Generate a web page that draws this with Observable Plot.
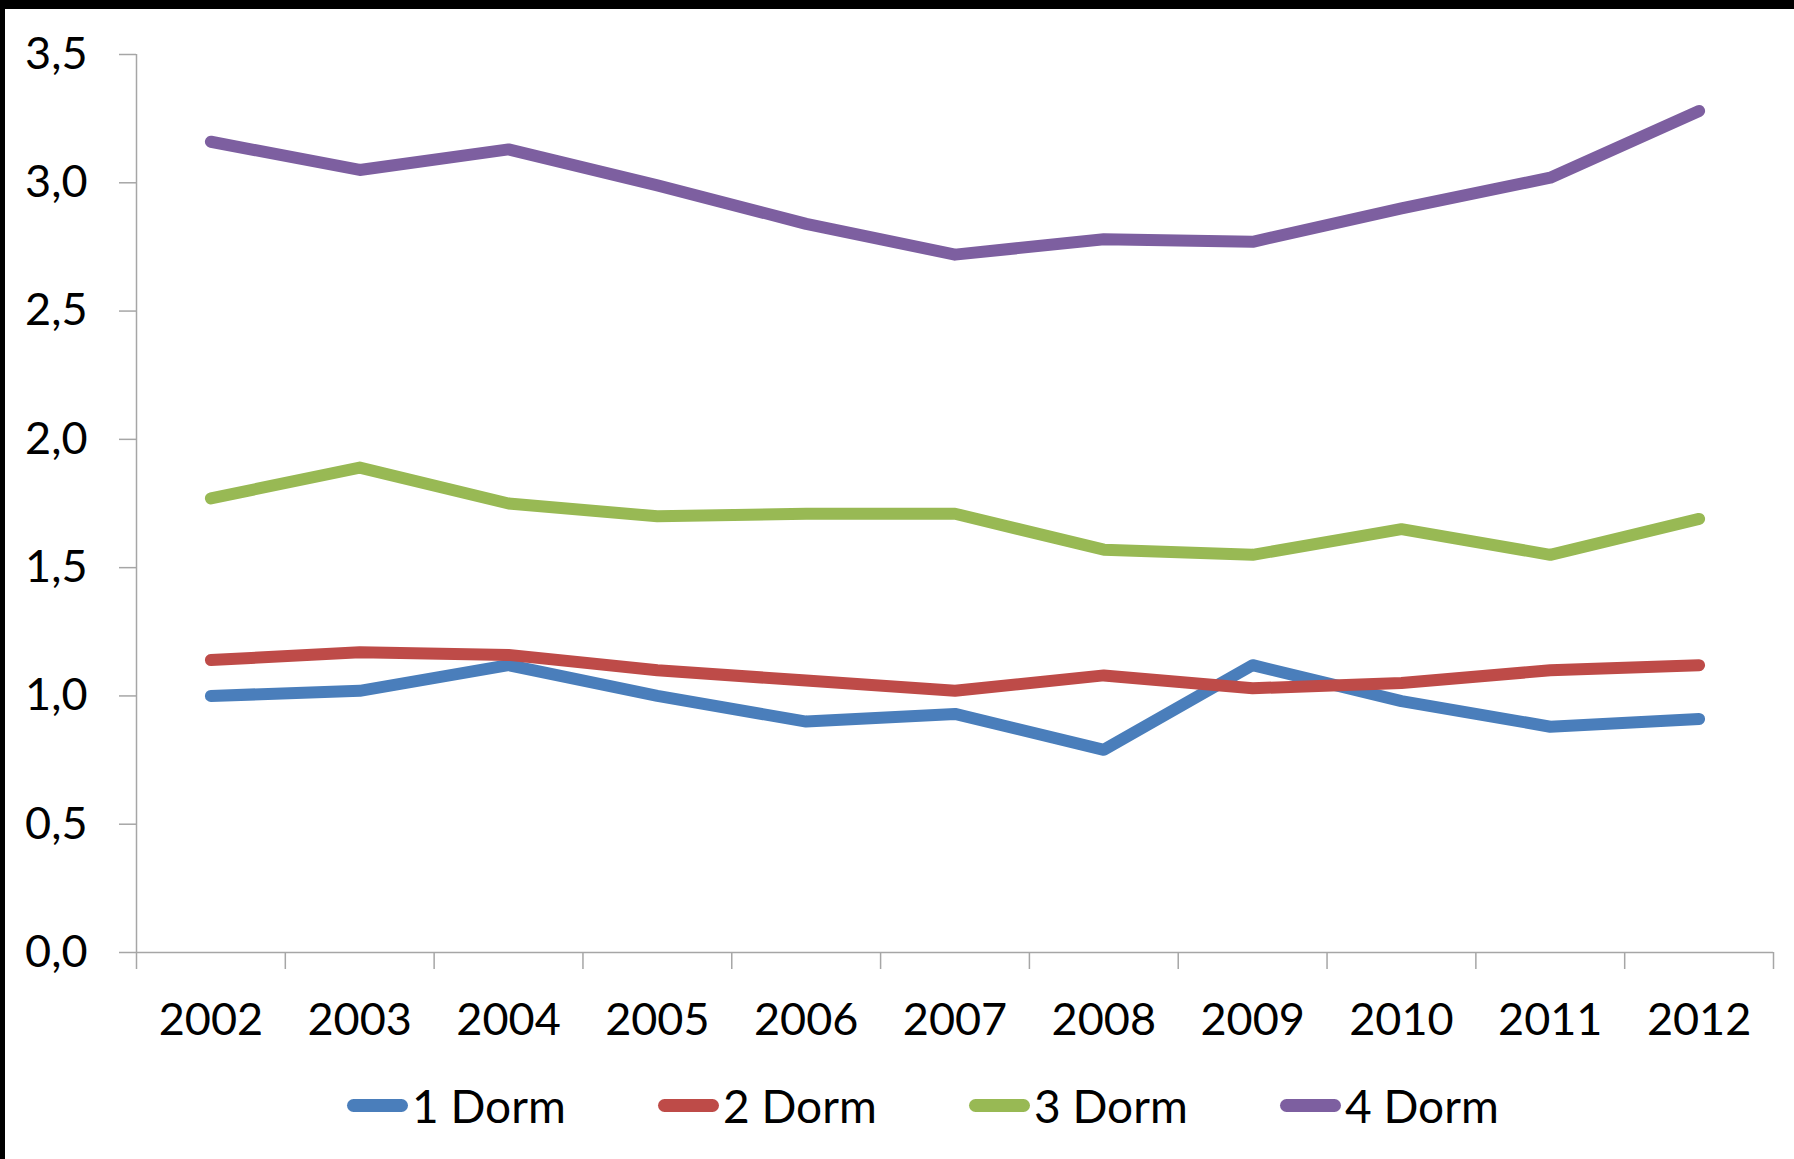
<!DOCTYPE html>
<html>
<head>
<meta charset="utf-8">
<script src="https://cdn.jsdelivr.net/npm/d3@7"></script>
<script src="https://cdn.jsdelivr.net/npm/@observablehq/plot@0.6"></script>
<style>
  html, body { margin: 0; padding: 0; background: #000; }
  #panel { position: absolute; left: 5px; top: 9px; width: 1789px; height: 1150px; background: #fff; overflow: hidden; }
  #chart { position: absolute; left: 0; top: 0; }
  #legend { position: absolute; left: 342px; top: 1066px; display: flex; font-family: Lato, sans-serif; font-size: 46px; color: #000; }
  .item { width: 311px; flex-shrink: 0; display: flex; align-items: center; height: 60px; }
  .sw { width: 61px; height: 13px; border-radius: 6.5px; margin-right: 4px; }
</style>
</head>
<body>
<div id="panel"><div id="chart"></div><div id="legend"></div></div>
<script>
const years = [2002, 2003, 2004, 2005, 2006, 2007, 2008, 2009, 2010, 2011, 2012];
const seriesNames = ["1 Dorm", "2 Dorm", "3 Dorm", "4 Dorm"];
const seriesColors = ["#4A7EBB", "#BE4B48", "#98B954", "#7D5FA0"];
const dorm1 = [1.00, 1.02, 1.12, 1.00, 0.90, 0.93, 0.79, 1.12, 0.98, 0.88, 0.91];
const dorm2 = [1.14, 1.17, 1.16, 1.10, 1.06, 1.02, 1.08, 1.03, 1.05, 1.10, 1.12];
const dorm3 = [1.77, 1.89, 1.75, 1.70, 1.71, 1.71, 1.57, 1.55, 1.65, 1.55, 1.69];
const dorm4 = [3.16, 3.05, 3.13, 2.99, 2.84, 2.72, 2.78, 2.77, 2.90, 3.02, 3.28];
const yTicks = [0, 0.5, 1, 1.5, 2, 2.5, 3, 3.5];

const seriesValues = [dorm1, dorm2, dorm3, dorm4];
const data = [];
seriesNames.forEach((name, i) => {
  years.forEach((yr, j) => data.push({series: name, year: yr, value: seriesValues[i][j]}));
});
const boundaries = [years[0] - 0.5, ...years.map(y => y + 0.5)];
const axisGray = "#a6a6a6";

const chart = Plot.plot({
  width: 1789,
  height: 1060,
  marginLeft: 131,
  marginRight: 21,
  marginTop: 45,
  marginBottom: 117,
  style: {fontFamily: "Lato, sans-serif", fontSize: "45px", color: "#000", background: "#fff"},
  x: {domain: [years[0] - 0.5, years[years.length - 1] + 0.5]},
  y: {domain: [0, 3.5]},
  color: {domain: seriesNames, range: seriesColors},
  marks: [
    Plot.axisY(yTicks, {tickSize: 17, tickPadding: 32, stroke: axisGray, strokeOpacity: 1, strokeWidth: 1.5, fill: "#000", label: null,
      tickFormat: d => d3.format(".1f")(d).replace(".", ",")}),
    Plot.axisX(boundaries, {tickSize: 17, stroke: axisGray, strokeOpacity: 1, strokeWidth: 1.5, tickFormat: () => "", label: null}),
    Plot.axisX(years, {tickSize: 0, tickPadding: 51, fill: "#000", tickFormat: d => String(d), label: null}),
    Plot.ruleY([0], {stroke: axisGray, strokeWidth: 1.5}),
    Plot.ruleX([boundaries[0]], {stroke: axisGray, strokeWidth: 1.5}),
    Plot.line(data, {x: "year", y: "value", z: "series", stroke: "series", strokeWidth: 12, strokeLinecap: "round", strokeLinejoin: "round"})
  ]
});
document.getElementById("chart").appendChild(chart);

const legend = document.getElementById("legend");
seriesNames.forEach((name, i) => {
  const it = document.createElement("div");
  it.className = "item";
  const sw = document.createElement("div");
  sw.className = "sw";
  sw.style.background = seriesColors[i];
  const tx = document.createElement("span");
  tx.textContent = name;
  it.appendChild(sw);
  it.appendChild(tx);
  legend.appendChild(it);
});
</script>
</body>
</html>
